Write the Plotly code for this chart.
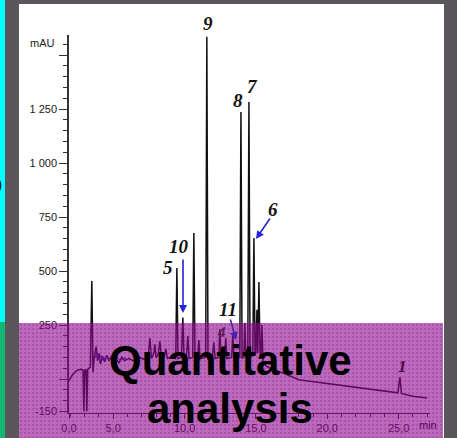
import plotly.graph_objects as go

# ---------------- data ----------------
# black chromatogram: retention time (min) and signal (mAU)
t_early = [1.90, 2.10, 2.40, 2.70, 2.88, 2.94, 3.00, 3.10, 3.15, 3.21, 3.40, 3.50, 3.58, 3.66,
           3.80, 3.90, 4.00, 4.10, 4.25, 4.40, 4.55, 4.70, 4.85, 5.00, 5.20, 5.40, 5.60, 5.80,
           6.10, 6.40, 6.80, 7.20]
v_early = [-10, 15, 38, 45, 42, -150, 40, 42, -150, 45, 55, 454, 30, 95,
           150, 85, 120, 70, 105, 80, 110, 85, 100, 80, 95, 75, 100, 85,
           95, 85, 100, 90]

t_mid = [7.45, 7.57, 7.68, 7.85, 7.92, 8.00, 8.15, 8.27, 8.38, 8.58, 8.69, 8.80, 9.05, 9.38,
         9.46, 9.54, 9.78, 9.88, 9.96, 10.13, 10.23, 10.32, 10.57, 10.65, 10.73, 10.92, 11.00,
         11.08, 11.48, 11.56, 11.64, 11.95, 12.05, 12.14, 12.40, 12.47, 12.55, 12.80, 12.89,
         12.97, 13.30, 13.38, 13.46, 13.87, 13.95, 14.03, 14.15, 14.22, 14.30, 14.43, 14.51,
         14.59, 14.78, 14.86, 14.94, 15.00, 15.07, 15.13, 15.21, 15.29, 15.36, 15.42, 15.50,
         15.70]
v_mid = [100, 190, 95, 120, 160, 100, 110, 175, 95, 105, 140, 95, 100, 95,
         514, 95, 100, 285, 95, 100, 200, 95, 100, 676, 95, 100, 180,
         95, 100, 1585, 95, 100, 170, 95, 100, 230, 95, 100, 190,
         95, 100, 210, 95, 100, 1236, 95, 100, 260, 95, 105, 1282,
         100, 110, 653, 110, 120, 320, 120, 449, 110, 120, 250, 80,
         60]

t_late = [16.00, 16.50, 17.00, 18.00, 19.00, 20.00, 21.00, 22.00, 23.00, 24.00, 24.95, 25.09,
          25.20, 26.00, 27.00]
v_late = [50, 38, 25, -3, -12, -20, -29, -38, -47, -55, -64, 9,
          -67, -80, -88]

# blue (reference) trace near the baseline
t_blue = [3.70, 3.85, 4.00, 4.15, 4.30, 4.50, 4.70, 4.90, 5.10, 5.30, 5.50, 5.75, 6.00]
v_blue = [95, 120, 90, 110, 85, 105, 90, 110, 88, 100, 85, 98, 90]

# axis ticks
x_tickvals = [1.9, 5, 10, 15, 20, 25]
x_ticktext = ["0,0", "5,0", "10,0", "15,0", "20,0", "25,0"]
y_tickvals = [-150, 0, 250, 500, 750, 1000, 1250, 1500]
y_ticktext = ["-150", "", "250", "500", "750", "1 000", "1 250", ""]

# peak labels: (text, x px, y px, color, size)
peak_labels = [("9", 208, 23, "#111111", 19), ("8", 238, 101, "#111111", 19),
               ("7", 253, 86, "#111111", 19), ("6", 273, 209, "#111111", 19),
               ("10", 179, 246, "#111111", 19), ("5", 168, 267, "#111111", 19),
               ("11", 228, 309, "#111111", 19), ("4", 221, 332, "#5a1a5a", 15),
               ("1", 402, 366, "#4a0a4a", 17)]
# arrows: tip px, tail px
arrows = [((183, 313), (183, 258), "#2424d8"),
          ((256, 239), (271, 217), "#2424d8"),
          ((236, 340), (230, 318), "#4a22b0")]

W, H = 457, 438
def px(x):
    return x / W
def py(y):
    return 1 - y / H

times = t_early + t_mid + t_late
vals = v_early + v_mid + v_late

fig = go.Figure()
fig.add_trace(go.Scatter(x=times, y=vals, mode="lines",
                         line=dict(color="#111111", width=1.5), hoverinfo="skip"))
fig.add_trace(go.Scatter(x=t_blue, y=v_blue, mode="lines",
                         line=dict(color="#2a2ad0", width=1), hoverinfo="skip"))

# magenta overlay with a dotted texture (on its own hidden axes)
fig.add_trace(go.Bar(x=[0.5], y=[1], width=[1], xaxis="x2", yaxis="y2",
                     marker=dict(color="rgba(147,5,147,0.6)", line=dict(width=0),
                                 pattern=dict(shape=".", fgcolor="rgba(70,0,70,0.35)",
                                              size=4, solidity=0.3)),
                     hoverinfo="skip"))

minor_x = [v for v in range(2, 28) if v % 5 != 0]
minor_y = [v for v in range(-150, 1600, 50) if v not in y_tickvals]

axis_col = "#333333"
fig.update_layout(
    width=W, height=H, autosize=False,
    margin=dict(l=0, r=0, t=0, b=0, pad=0, autoexpand=False),
    paper_bgcolor="#5b565b", plot_bgcolor="rgba(0,0,0,0)", showlegend=False,
    font=dict(family="Liberation Sans, Arial", size=11, color="#1a1a1a"),
    xaxis=dict(domain=[69 / W, 430 / W], range=[1.9, 27.2], tickmode="array", automargin=False,
               tickvals=x_tickvals, ticktext=x_ticktext, ticks="outside", ticklen=5,
               tickcolor=axis_col, showline=True, linecolor=axis_col, linewidth=1.2,
               showgrid=False, zeroline=False,
               minor=dict(tickmode="array", tickvals=minor_x, ticks="outside", ticklen=3,
                          tickcolor=axis_col, showgrid=False)),
    yaxis=dict(domain=[(H - 413) / H, (H - 35) / H], range=[-157.4, 1592.6], tickmode="array",
               automargin=False,
               tickvals=y_tickvals, ticktext=y_ticktext, ticks="outside", ticklen=8,
               tickcolor=axis_col, showline=True, linecolor=axis_col, linewidth=1.5,
               showgrid=False, zeroline=False,
               minor=dict(tickmode="array", tickvals=minor_y, ticks="outside", ticklen=4,
                          tickcolor=axis_col, showgrid=False)),
    xaxis2=dict(domain=[19 / W, 443 / W], range=[0, 1], visible=False, fixedrange=True,
                automargin=False),
    yaxis2=dict(domain=[0, (H - 323) / H], range=[0, 1], visible=False, fixedrange=True,
                automargin=False),
    bargap=0,
)

shapes = [
    dict(type="rect", xref="paper", yref="paper", x0=-0.01, x1=1.01, y0=-0.01, y1=1.01,
         fillcolor="#5b565b", line=dict(width=0), layer="below"),
    dict(type="rect", xref="paper", yref="paper", x0=px(19), x1=px(444), y0=-0.01, y1=py(4),
         fillcolor="white", line=dict(width=0), layer="below"),
    dict(type="rect", xref="paper", yref="paper", x0=-0.01, x1=px(5), y0=py(322), y1=1.01,
         fillcolor="#00ffff", line=dict(width=0), layer="below"),
    dict(type="rect", xref="paper", yref="paper", x0=-0.01, x1=px(5), y0=-0.01, y1=py(322),
         fillcolor="#10b870", line=dict(width=0), layer="below"),
]
fig.update_layout(shapes=shapes)

ann = []
for txt, x, y, col, sz in peak_labels:
    ann.append(dict(text="<b><i>%s</i></b>" % txt, x=px(x), y=py(y), xref="paper", yref="paper",
                    showarrow=False, xanchor="center", yanchor="middle",
                    font=dict(family="Liberation Serif, Times New Roman", size=sz, color=col)))
for (tx, ty), (sx, sy), col in arrows:
    ann.append(dict(text="", x=px(tx), y=py(ty), xref="paper", yref="paper",
                    ax=sx - tx, ay=sy - ty, showarrow=True, arrowhead=2, arrowsize=1,
                    arrowwidth=1.6, arrowcolor=col, standoff=0))
ann.append(dict(text="mAU", x=px(57), y=py(43), xref="paper", yref="paper", showarrow=False,
                xanchor="right", yanchor="middle", font=dict(size=11, color="#1a1a1a")))
ann.append(dict(text="min", x=px(428), y=py(425), xref="paper", yref="paper", showarrow=False,
                xanchor="center", yanchor="middle", font=dict(size=11, color="#580358")))
ann.append(dict(text=")", x=px(4), y=py(184), xref="paper", yref="paper", showarrow=False,
                xanchor="right", yanchor="middle", font=dict(size=16, color="#111111")))
ann.append(dict(text="<b>Quantitative</b>", x=px(230.5), y=py(360.5), xref="paper", yref="paper",
                showarrow=False, xanchor="center", yanchor="middle",
                font=dict(family="Liberation Sans, Arial", size=42, color="#000000")))
ann.append(dict(text="<b>analysis</b>", x=px(230), y=py(408.5), xref="paper", yref="paper",
                showarrow=False, xanchor="center", yanchor="middle",
                font=dict(family="Liberation Sans, Arial", size=42, color="#000000")))
fig.update_layout(annotations=ann)

fig.write_html("out.html", config={"displayModeBar": False},
               post_script="document.body.style.margin='0';document.body.style.overflow='hidden';")
